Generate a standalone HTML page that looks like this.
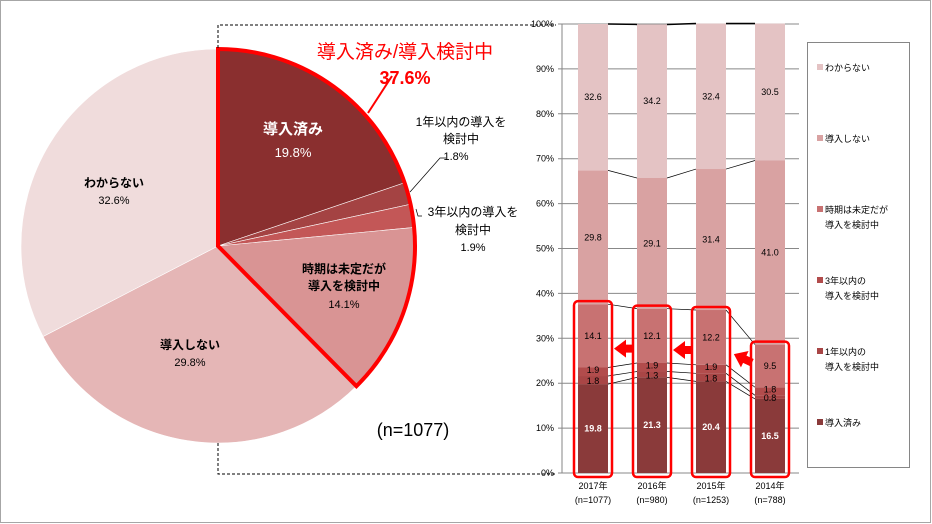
<!DOCTYPE html>
<html><head><meta charset="utf-8"><style>
html,body{margin:0;padding:0;background:#fff}
svg{display:block;font-family:"Liberation Sans","Noto Sans CJK JP",sans-serif}
</style></head><body>
<svg id="c" width="932" height="524" viewBox="0 0 932 524" xmlns="http://www.w3.org/2000/svg">
<rect x="0.5" y="0.5" width="930" height="522" fill="#fff" stroke="#a6a6a6"/>
<g id="pie"></g>
<g id="bars"></g>
</svg>
<script>
const pieCats = ['導入済み','1年以内の導入を検討中','3年以内の導入を検討中','時期は未定だが導入を検討中','導入しない','わからない'];
const pieValues = [19.8, 1.8, 1.9, 14.1, 29.8, 32.6];
const pieColors = ['#8a2f2f','#a44343','#c35757','#d99494','#e5b6b6','#f0dcdc'];
const barCats = ['2017年','2016年','2015年','2014年'];
const barNs = ['(n=1077)','(n=980)','(n=1253)','(n=788)'];
const sDone = [19.8, 21.3, 20.4, 16.5];
const s1yr = [1.8, 1.3, 1.8, 0.8];
const s3yr = [1.9, 1.9, 1.9, 1.8];
const sUndecided = [14.1, 12.1, 12.2, 9.5];
const sNo = [29.8, 29.1, 31.4, 41.0];
const sUnknown = [32.6, 34.2, 32.4, 30.5];
const yTicks = [0,10,20,30,40,50,60,70,80,90,100];
const legendLabels = [['わからない'],['導入しない'],['時期は未定だが','導入を検討中'],['3年以内の','導入を検討中'],['1年以内の','導入を検討中'],['導入済み']];
const barColors = ['#8a3a3a','#a94646','#b24c4c','#c87272','#d9a2a2','#e4c3c4'];

const NS='http://www.w3.org/2000/svg';
function mk(p,t,a,txt){const e=document.createElementNS(NS,t);for(const k in a)e.setAttribute(k,a[k]);if(txt!==undefined)e.textContent=txt;p.appendChild(e);return e;}

// ---- pie ----
const pie=document.getElementById('pie');
const cx=218,cy=246,R=197;
function pt(frac,r){const a=frac*2*Math.PI-Math.PI/2;return [cx+r*Math.cos(a),cy+r*Math.sin(a)];}
const tot=pieValues.reduce((a,b)=>a+b,0);
let acc=0;
const fr=[];
pieValues.forEach((v,i)=>{
  const f0=acc/tot,f1=(acc+v)/tot;fr.push([f0,f1]);acc+=v;
  const [x0,y0]=pt(f0,R),[x1,y1]=pt(f1,R);
  const el=mk(pie,'path',{d:`M${cx},${cy}L${x0},${y0}A${R},${R} 0 ${f1-f0>0.5?1:0} 1 ${x1},${y1}Z`,fill:pieColors[i],stroke:'#fff','stroke-width':0.6});
  
  
});
{const f1=fr[3][1];const [x0,y0]=pt(0,R),[x1,y1]=pt(f1,R);
const el=mk(pie,'path',{d:`M${cx},${cy}L${x0},${y0}A${R},${R} 0 0 1 ${x1},${y1}Z`,fill:'none',stroke:'#ff0000','stroke-width':4,'stroke-linejoin':'miter'});
}
mk(pie,'path',{d:'M218,48V25H556M218,443V474H556',fill:'none',stroke:'#000','stroke-dasharray':'3,2','stroke-width':1});
function txt(x,y,s,opt){const e=mk(pie,'text',Object.assign({x:x,y:y,'font-size':12,'text-anchor':'middle',fill:'#000'},opt||{}),s);return e;}
txt(405,58,'導入済み/導入検討中',{fill:'#ff0000','font-size':19});
txt(405,84,'37.6%',{fill:'#ff0000','font-size':18,'font-weight':'bold'});
mk(pie,'line',{x1:368,y1:113,x2:392,y2:76,stroke:'#ff0000','stroke-width':2});
txt(293,134,'導入済み',{fill:'#fff','font-size':15,'font-weight':'bold'});
txt(293,157,pieValues[0].toFixed(1)+'%',{fill:'#fff','font-size':13});
txt(461,126,'1年以内の導入を',{'font-size':12});
txt(461,143,'検討中');
txt(456,160,'1.8%',{'font-size':11});
mk(pie,'path',{d:'M410,192L440,158H446',fill:'none',stroke:'#000','stroke-width':0.7});
txt(473,216,'3年以内の導入を');
txt(473,234,'検討中');
txt(473,251,'1.9%',{'font-size':11});
mk(pie,'path',{d:'M416,209L418,216H422',fill:'none',stroke:'#000','stroke-width':0.7});
txt(344,273,'時期は未定だが',{'font-weight':'bold'});
txt(344,290,'導入を検討中',{'font-weight':'bold'});
txt(344,308,pieValues[3].toFixed(1)+'%',{'font-size':11});
txt(190,349,'導入しない',{'font-weight':'bold'});
txt(190,366,pieValues[4].toFixed(1)+'%',{'font-size':11});
txt(114,187,'わからない',{'font-weight':'bold'});
txt(114,204,pieValues[5].toFixed(1)+'%',{'font-size':11});
txt(413,436,'(n=1077)',{'font-size':18});

// ---- bars ----
const bg=document.getElementById('bars');
const y0p=473,y100=24;
const yS=v=>y0p-(y0p-y100)*v/100;
const bx=[593,652,711,770],bw=30;
yTicks.forEach(t=>{const y=yS(t);
  const gl=mk(bg,'line',{x1:558,y1:y,x2:799,y2:y,stroke:'#888'});
  const e=mk(bg,'text',{x:554,y:y+3,'font-size':9,'text-anchor':'end'},t+'%');});
mk(bg,'line',{x1:562,y1:y100,x2:562,y2:y0p,stroke:'#868686'});
const series=[sDone,s1yr,s3yr,sUndecided,sNo,sUnknown];
const tops=barCats.map(()=>[]);
barCats.forEach((c,i)=>{
  let a=0;
  series.forEach((s,k)=>{
    const v=s[i];const yb=yS(a),yt=yS(a+v);
    const r=mk(bg,'rect',{x:bx[i]-bw/2,y:yt,width:bw,height:yb-yt,fill:barColors[k]});
    
    a+=v;tops[i].push(yt);
  });
  const g=mk(bg,'text',{x:bx[i],y:489,'font-size':9,'text-anchor':'middle'},c);
  const n=mk(bg,'text',{x:bx[i],y:503,'font-size':9,'text-anchor':'middle'},barNs[i]);
});
for(let i=0;i<barCats.length-1;i++){for(let k=0;k<6;k++){
  mk(bg,'line',{x1:bx[i]+bw/2,y1:tops[i][k],x2:bx[i+1]-bw/2,y2:tops[i+1][k],stroke:'#000','stroke-width':k===5?1.5:0.7});}}
barCats.forEach((c,i)=>{
  let a=0;
  series.forEach((s,k)=>{
    const v=s[i];let yc=yS(a+v/2)+3;
    if(k===1)yc=yS(a+v/2)+4;if(k===2)yc=yS(a+v/2)+1;
    const e=mk(bg,'text',{x:bx[i],y:yc,'font-size':9,'text-anchor':'middle',fill:k===0?'#fff':'#000','font-weight':k===0?'bold':'normal'},v.toFixed(1));
    
    a+=v;
  });
  const h=sDone[i]+s1yr[i]+s3yr[i]+sUndecided[i];
  const rr=mk(bg,'rect',{x:bx[i]-bw/2-4,y:yS(h)-3,width:bw+8,height:yS(0)-yS(h)+7,rx:4,fill:'none',stroke:'#ff0000','stroke-width':2.5});
  
});
[[1,0],[2,1],[3,2]].forEach(([f,t])=>{
  const h=sDone[f]+s1yr[f]+s3yr[f]+sUndecided[f];
  const y=yS(h)+(f===3?18:40);
  const xs=bx[f]-bw/2-3,xe=bx[t]+bw/2+6;
  const e=mk(bg,'path',{d:`M${xs},${y-4}L${xe+12},${y-4}L${xe+12},${y-9}L${xe},${y}L${xe+12},${y+9}L${xe+12},${y+4}L${xs},${y+4}Z`,fill:'#ff0000'});
  if(f===3)e.setAttribute('transform',`rotate(25 ${xs} ${y})`);
  
});
mk(bg,'rect',{x:807.5,y:42.5,width:102,height:425,fill:'#fff',stroke:'#868686'});
const ly=[71,142,213,284,355,426];
legendLabels.forEach((lab,i)=>{
  const col=barColors[5-i];
  const sw=mk(bg,'rect',{x:817,y:ly[i]-7,width:6,height:6,fill:col});
  lab.forEach((l,j)=>{const e=mk(bg,'text',{x:825,y:ly[i]+j*15,'font-size':9},l);});
});
</script>
</body></html>
